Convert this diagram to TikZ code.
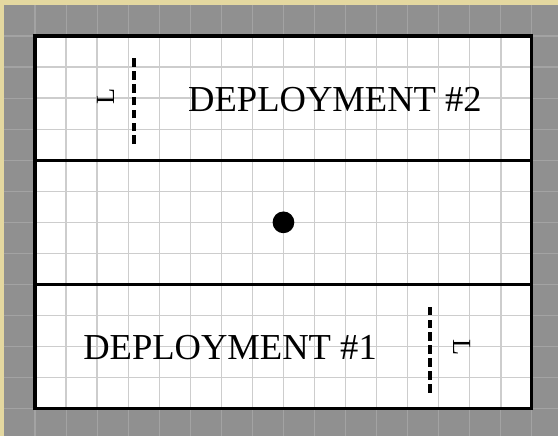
\documentclass[tikz,border=0pt]{standalone}
\usepackage{fontspec}
\setmainfont{Liberation Serif}
\definecolor{pergamino}{RGB}{228,216,160}
\definecolor{mesa}{RGB}{144,144,144}
\definecolor{rejillamesa}{RGB}{163,163,163}
\definecolor{rejilla}{RGB}{205,205,205}
\begin{document}
\begin{tikzpicture}[
    borde/.style={line width=2.8pt},
    despliegue/.style={dash pattern=on 7.9pt off 3.9pt, line width=3.6pt},
    etiqueta/.style={font=\fontsize{33.5}{40}\selectfont, anchor=base, inner sep=0pt},
    marca/.style={font=\fontsize{24}{28}\selectfont, inner sep=0pt}
]
    \useasboundingbox (-1.127,-0.869) rectangle (16.84,13.159);
    \fill[pergamino] (-1.127,-0.869) rectangle (16.84,13.159);

    % Mesa con cuadricula
    \fill[mesa] (-1,-0.869) rectangle (16.84,13);
    \foreach \x in {0,...,16}
        \draw[rejillamesa, line width=1pt] (\x,-0.869) -- (\x,13);
    \foreach \y in {0,...,12}
        \draw[rejillamesa, line width=1pt] (-1,\y) -- (16.84,\y);

    % Tablero
    \fill[white] (0,0) rectangle (16,12);
    \foreach \x in {1,...,15}
        \draw[rejilla, line width=1.2pt] (\x,0) -- (\x,12);
    \foreach \y in {1,...,11}
        \draw[rejilla, line width=1.2pt] (0,\y) -- (16,\y);
    \draw[borde] (0,0) rectangle (16,12);
    \draw[borde] (0,4) -- (16,4);
    \draw[borde] (0,8) -- (16,8);

    % Lineas de despliegue
    \draw[despliegue] (3.2,8.52) -- (3.2,11.29);
    \draw[despliegue] (12.71,0.52) -- (12.71,3.31);
    \node[marca, rotate=90] (L2) at (2.27,10.04) {L};
    \node[marca, rotate=-90] (L1) at (13.74,1.97) {L};

    \node[etiqueta] (D2) at (9.66,9.563) {DEPLOYMENT \#2};
    \node[etiqueta] (D1) at (6.28,1.59) {DEPLOYMENT \#1};

    % Centro
    \fill (8,6) circle (0.35);
\end{tikzpicture}
\end{document}
